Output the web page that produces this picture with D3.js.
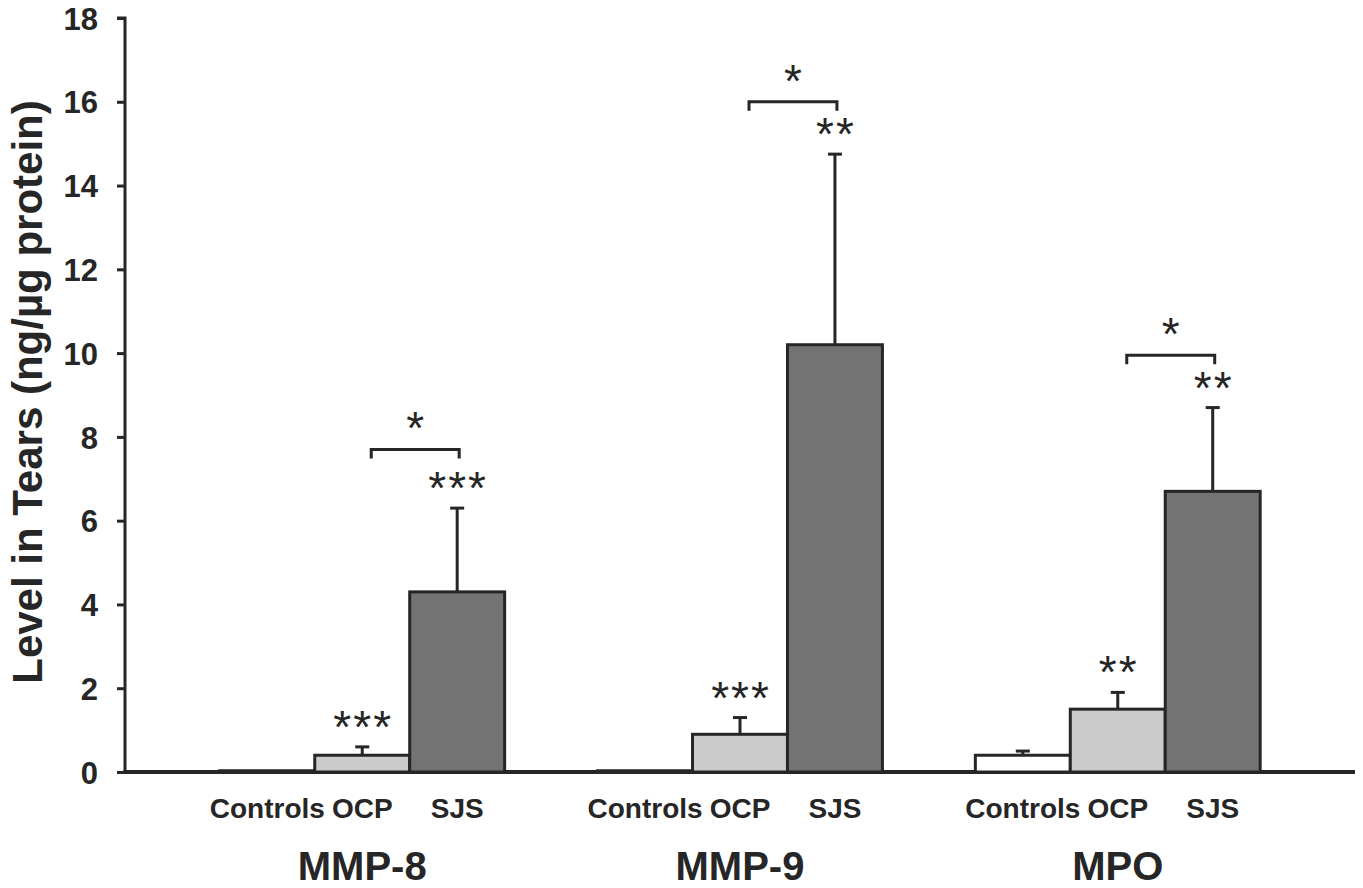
<!DOCTYPE html>
<html>
<head>
<meta charset="utf-8">
<script src="https://cdn.jsdelivr.net/npm/d3@7"></script>
<style>
  html, body { margin: 0; padding: 0; background: #fff; }
  svg { display: block; }
  text { font-family: "Liberation Sans", Arial, sans-serif; fill: #262626; }
</style>
</head>
<body>
<svg id="chart" width="1363" height="888"></svg>
<script>
// ---- data ----
const groups = ["MMP-8", "MMP-9", "MPO"];
const series = ["Controls", "OCP", "SJS"];
const means = [
  [0.03, 0.4, 4.3],   // MMP-8
  [0.03, 0.9, 10.2],  // MMP-9
  [0.4, 1.5, 6.7]     // MPO
];
const errors = [
  [0, 0.2, 2.0],
  [0, 0.4, 4.55],
  [0.1, 0.4, 2.0]
];
const stars = [
  ["", "***", "***"],
  ["", "***", "**"],
  ["", "**", "**"]
];
const bracketLevels = [7.7, 16.0, 9.95];
const bracketStars = ["*", "*", "*"];
const yTicks = [0, 2, 4, 6, 8, 10, 12, 14, 16, 18];
const yTitle = "Level in Tears (ng/µg protein)";
const colors = ["#ffffff", "#cccccc", "#737373"];

// ---- layout ----
const svg = d3.select("#chart");
const M = { left: 125, right: 1355, top: 18, bottom: 772 };
const ink = "#262626";

const y = d3.scaleLinear().domain([0, 18]).range([M.bottom, M.top]);
const x0 = d3.scaleBand().domain(groups).range([M.left, M.right]).paddingInner(0.246).paddingOuter(0.251);
const x1 = d3.scaleBand().domain(series).range([0, x0.bandwidth()]).padding(0);

// y axis
const yAxis = d3.axisLeft(y).tickValues(yTicks).tickSize(8).tickPadding(19).tickFormat(d3.format("d"));
const gy = svg.append("g").attr("transform", `translate(${M.left},0)`).call(yAxis);
gy.select(".domain").attr("stroke", ink).attr("stroke-width", 3).attr("d", `M-8,${M.top}H0V${M.bottom}`);
gy.selectAll(".tick line").attr("stroke", ink).attr("stroke-width", 3);
gy.selectAll(".tick text").attr("font-size", 31).attr("font-weight", "bold")
  .attr("fill", ink).attr("font-family", "Liberation Sans, Arial, sans-serif").attr("dy", "0.36em");

// x axis line
svg.append("line").attr("x1", M.left - 1.5).attr("x2", M.right).attr("y1", M.bottom).attr("y2", M.bottom)
  .attr("stroke", ink).attr("stroke-width", 4);

// y title
svg.append("text")
  .attr("transform", `translate(42,392) rotate(-90)`)
  .attr("text-anchor", "middle")
  .attr("font-size", 42).attr("font-weight", "bold")
  .text(yTitle);

// bars
const gGroups = svg.selectAll("g.grp").data(groups).join("g").attr("class", "grp")
  .attr("transform", d => `translate(${x0(d)},0)`);

gGroups.each(function (g, gi) {
  const gg = d3.select(this);
  series.forEach((s, si) => {
    const v = means[gi][si];
    const bx = x1(s), bw = x1.bandwidth();
    const cx = bx + bw / 2;
    gg.append("rect")
      .attr("x", bx).attr("width", bw)
      .attr("y", y(v)).attr("height", Math.max(0, y(0) - y(v)))
      .attr("fill", colors[si]).attr("stroke", ink).attr("stroke-width", 3);
    const e = errors[gi][si];
    if (e > 0) {
      gg.append("line").attr("x1", cx).attr("x2", cx).attr("y1", y(v)).attr("y2", y(v + e))
        .attr("stroke", ink).attr("stroke-width", 3);
      gg.append("line").attr("x1", cx - 7).attr("x2", cx + 7).attr("y1", y(v + e)).attr("y2", y(v + e))
        .attr("stroke", ink).attr("stroke-width", 3);
    }
    if (stars[gi][si]) {
      gg.append("text").attr("x", cx + 1).attr("y", y(v + e) - 4)
        .attr("text-anchor", "middle").attr("font-size", 46).attr("letter-spacing", 2)
        .text(stars[gi][si]);
    }
    // category label
    gg.append("text").attr("x", cx).attr("y", 818).attr("text-anchor", "middle")
      .attr("font-size", 28).attr("font-weight", "bold").text(s);
  });
  // bracket
  const bl = x1("OCP") + x1.bandwidth() / 2 + 9;
  const br = x1("SJS") + x1.bandwidth() / 2 + 2;
  const by = y(bracketLevels[gi]);
  gg.append("path").attr("d", `M${bl},${by + 9}V${by}H${br}V${by + 9}`)
    .attr("fill", "none").attr("stroke", ink).attr("stroke-width", 3);
  gg.append("text").attr("x", (bl + br) / 2).attr("y", by - 5).attr("text-anchor", "middle")
    .attr("font-size", 46).text(bracketStars[gi]);
  // group label
  gg.append("text").attr("x", x0.bandwidth() / 2).attr("y", 880).attr("text-anchor", "middle")
    .attr("font-size", 40).attr("font-weight", "bold").text(g);
});
</script>
</body>
</html>
